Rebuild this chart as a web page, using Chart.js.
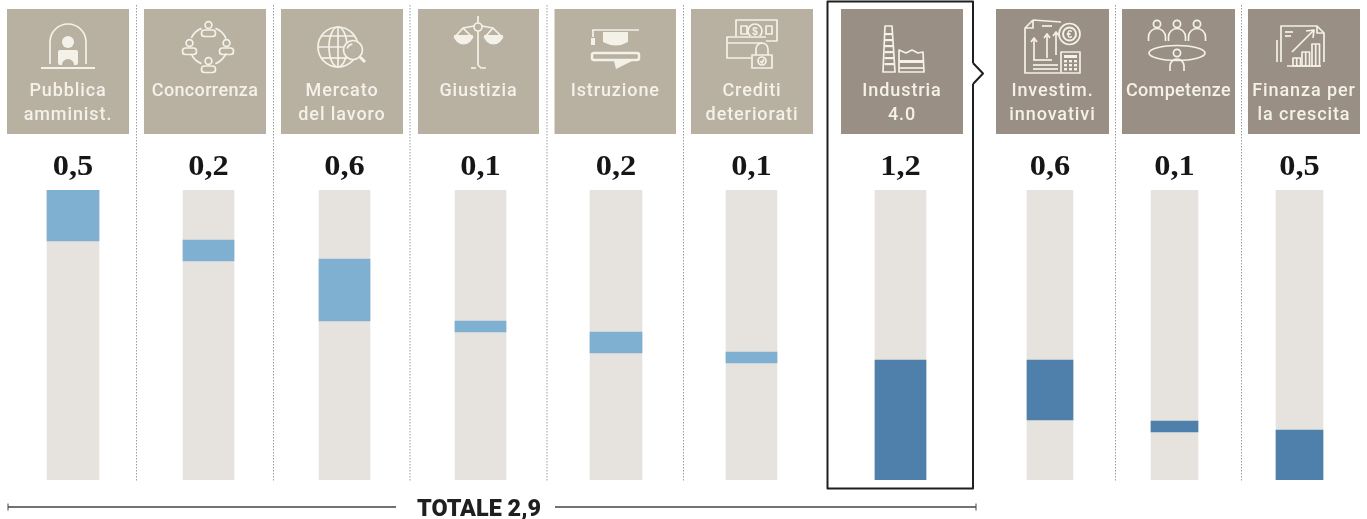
<!DOCTYPE html>
<html lang="it"><head><meta charset="utf-8">
<style>html,body{margin:0;padding:0;background:#fff}canvas{display:block}#w{width:1367px;height:519px;position:relative}</style>
<script src="https://cdn.jsdelivr.net/npm/chart.js@4"></script>
</head><body><div id="w"><canvas id="c" width="1367" height="519"></canvas></div>
<script>
const categories = ['Pubblica amminist.','Concorrenza','Mercato del lavoro','Giustizia','Istruzione','Crediti deteriorati','Industria 4.0','Investim. innovativi','Competenze','Finanza per la crescita'];
const headerLines = [['Pubblica','amminist.'],['Concorrenza'],['Mercato','del lavoro'],['Giustizia'],['Istruzione'],['Crediti','deteriorati'],['Industria','4.0'],['Investim.','innovativi'],['Competenze'],['Finanza per','la crescita']];
const valueLabels = ['0,5','0,2','0,6','0,1','0,2','0,1','1,2','0,6','0,1','0,5'];
const segmentTop = [2.90,2.40,2.21,1.59,1.48,1.28,1.20,1.20,0.59,0.50];
const segmentBottom = [2.39,2.19,1.59,1.48,1.27,1.17,0,0.60,0.48,0];
const trackTop = 2.9;
const totalLabel = 'TOTALE 2,9';

// layout (not data)
const centers=[73,208.5,344.5,480.5,616,751.5,900.5,1050,1174.5,1299.5];
const barW=[52,51,51,51,52,51,51,46,47,47];
const boxes=[[7,129],[144,266],[281,403],[418,539],[554.5,676],[691,813],[841,963],[996,1109],[1122,1235],[1248,1360]];
const headW=[0,109,0,0,0,0,0,0,108,0];
const seps=[136.5,273.5,410,547,683.5,1115.5,1241.5];
const LIGHT='#7fb0d2',DARK='#4f80ab',TRACK='#e6e3de',HL='#b8b1a2',HD='#9a8f84',INK='#f4f1e8';

class ColumnScale extends Chart.CategoryScale{
  getPixelForValue(v,i){const k=(i!==undefined&&i!==null)?i:Math.round(v);return centers[k]!==undefined?centers[k]:super.getPixelForValue(v,i);}
}
ColumnScale.id='columns';ColumnScale.defaults=Chart.CategoryScale.defaults;
Chart.register(ColumnScale);

function L(c,pts,close){c.beginPath();pts.forEach((p,i)=>i?c.lineTo(p[0],p[1]):c.moveTo(p[0],p[1]));if(close)c.closePath();c.stroke();}
function C(c,x,y,r,fill){c.beginPath();c.arc(x,y,r,0,Math.PI*2);fill?c.fill():c.stroke();}
function R(c,x,y,w,h,fill){fill?c.fillRect(x,y,w,h):c.strokeRect(x,y,w,h);}
function person(c,x,y){C(c,x,y-4,3.4);c.beginPath();c.roundRect(x-7,y+1,14,6.5,3);c.stroke();}
const LW=1.7;
const icons=[
 c=>{c.beginPath();c.moveTo(50,64);c.lineTo(50,43);c.arc(68,42,18,Math.PI,0);c.lineTo(86,64);c.stroke();
     c.lineWidth=2.2;L(c,[[41,68],[95,68]]);c.lineWidth=LW;
     C(c,68,42,6,true);c.beginPath();c.roundRect(58,50,20,15,2);c.fill();
     c.fillStyle=HL;c.beginPath();c.moveTo(62,65);c.arc(68,65,6,Math.PI,0);c.fill();c.fillStyle=INK;},
 c=>{person(c,208.5,29);person(c,189.5,47);person(c,226.5,47);person(c,208.5,65);
     [[-2.7,-1.95],[-1.2,-.4],[.4,1.2],[1.95,2.7]].forEach(a=>{c.beginPath();c.arc(208.5,46,19,a[0],a[1]);c.stroke();});},
 c=>{C(c,338,47,20);c.beginPath();c.ellipse(338,47,9,20,0,0,7);c.stroke();L(c,[[338,27],[338,67]]);L(c,[[318,47],[358,47]]);L(c,[[321,36],[355,36]]);L(c,[[321,58],[352,58]]);
     c.fillStyle=HL;C(c,353,50,10,true);c.fillStyle=INK;C(c,353,50,9.5);c.beginPath();c.arc(353,50,6,3.4,4.6);c.stroke();c.lineWidth=3;L(c,[[360,57],[365,62]]);c.lineWidth=LW;},
 c=>{L(c,[[478,16],[478,23]]);C(c,478,27,4);L(c,[[478,31],[478,65],[481,68],[486,68]]);L(c,[[471,68],[476,68]]);
     L(c,[[474,26],[463,28],[454,38]]);L(c,[[463,28],[473,38]]);L(c,[[482,26],[493,28],[503,38]]);L(c,[[493,28],[484,38]]);
     c.beginPath();c.arc(463.5,35,9.5,0,Math.PI);c.fill();c.beginPath();c.arc(493.5,35,9.5,0,Math.PI);c.fill();},
 c=>{L(c,[[592,30],[639,30]]);c.beginPath();c.moveTo(603,32);c.lineTo(628,32);c.lineTo(628,42);c.quadraticCurveTo(616,49,603,42);c.closePath();c.fill();
     L(c,[[593,30],[593,37]]);R(c,591,38,4,7,true);
     c.lineWidth=2.5;c.beginPath();c.roundRect(592,53,47,7,2);c.stroke();c.lineWidth=LW;
     R(c,606,52,22,2,true);c.beginPath();c.moveTo(614,61);c.lineTo(632,61);c.lineTo(616,69);c.closePath();c.fill();},
 c=>{R(c,736,20,41,21);C(c,755,31,7);c.font='bold 10px "Liberation Sans"';c.textAlign='center';c.fillText('$',755,35);R(c,741,26,6,8);R(c,766,26,6,8);
     c.fillStyle=HL;c.fillRect(726,36,40,24);c.fillStyle=INK;c.beginPath();c.moveTo(766,37);c.lineTo(727,37);c.lineTo(727,58);c.lineTo(752,58);c.stroke();L(c,[[727,43],[762,43]]);
     c.fillStyle=HL;c.fillRect(751,46,23,24);c.fillStyle=INK;R(c,752,55,20,13);c.beginPath();c.arc(762,49,6,Math.PI,0);c.lineTo(768,55);c.moveTo(756,49);c.lineTo(756,55);c.stroke();C(c,762,61,4);L(c,[[760,61],[762,63],[764,59]]);},
 c=>{c.beginPath();c.moveTo(883,72);c.lineTo(885,26);c.lineTo(892,26);c.lineTo(895,72);c.closePath();c.stroke();
     [33,39,45,51,57,63].forEach(y=>R(c,884.5,y,10.5-(70-y)*.08,2.2,true));
     c.beginPath();c.moveTo(899,72);c.lineTo(899,50);c.lineTo(906,53);c.lineTo(912,50);c.lineTo(918,53);c.lineTo(923,52);c.lineTo(924,72);c.closePath();c.stroke();R(c,899,60,25,3,true);L(c,[[899,68],[924,68]]);},
 c=>{c.beginPath();c.moveTo(1033,20);c.lineTo(1061,22);c.moveTo(1033,20);c.lineTo(1025,28);c.lineTo(1025,73);c.lineTo(1060,73);c.moveTo(1033,20);c.lineTo(1033,28);c.lineTo(1025,28);c.stroke();
     [[1034,60,38],[1047,58,34],[1056,55,32]].forEach(a=>{L(c,[[a[0],a[1]],[a[0],a[2]]]);L(c,[[a[0]-3,a[2]+4],[a[0],a[2]],[a[0]+3,a[2]+4]]);});
     L(c,[[1033,60],[1052,60]]);L(c,[[1033,65],[1058,65]]);L(c,[[1033,69],[1058,69]]);L(c,[[1042,26],[1052,26]]);
     c.fillStyle=HD;C(c,1069.5,34,11,true);c.fillStyle=INK;C(c,1069.5,34,10.5);c.lineWidth=2;C(c,1069.5,34,6.5);c.lineWidth=LW;
     c.font='bold 10px "Liberation Sans"';c.textAlign='center';c.fillText('€',1069.5,38);
     c.fillStyle=HD;c.fillRect(1060,51,21,23);c.fillStyle=INK;R(c,1061,52,19,21);R(c,1064,55,13,3,true);
     for(let i=0;i<3;i++)for(let j=0;j<3;j++)R(c,1064+i*5,60+j*4,3,2.4,true);},
 c=>{[1157,1177,1197].forEach(x=>{C(c,x,24,3.6);c.beginPath();c.moveTo(x-8.5,41);c.lineTo(x-8.5,37);c.arc(x,37,8.5,Math.PI,0);c.lineTo(x+8.5,41);c.stroke();});
     c.beginPath();c.ellipse(1177,53,28,7.5,0,0,7);c.stroke();C(c,1177,53,3.6);c.beginPath();c.moveTo(1170,71);c.lineTo(1170,66);c.arc(1177,66,7,Math.PI,0);c.lineTo(1184,71);c.stroke();},
 c=>{c.beginPath();c.moveTo(1281,62);c.lineTo(1281,26);c.lineTo(1317,26);c.lineTo(1324,33);c.lineTo(1324,62);c.stroke();L(c,[[1317,26],[1317,33],[1324,33]]);
     L(c,[[1285,32],[1293,32]]);L(c,[[1285,36],[1291,36]]);L(c,[[1292,52],[1314,30]]);L(c,[[1306,31],[1314,30],[1313,38]]);
     [[1293,58,8],[1302,52,14],[1312,44,22]].forEach(a=>{c.fillStyle=HD;c.fillRect(a[0]-1,a[1]-1,10,a[2]+2);c.fillStyle=INK;R(c,a[0],a[1],7.5,a[2]);L(c,[[a[0]+3.7,a[1]],[a[0]+3.7,a[1]+a[2]]]);});
     L(c,[[1287,66],[1321,66]]);L(c,[[1277,62],[1277,40]]);},
];

function wideText(c,t,cx,y,sx){c.save();c.translate(cx,y);c.scale(sx,1);c.textAlign='center';c.fillText(t,0,0);c.restore();}

const decor={id:'decor',
 afterDatasetsUpdate(chart){chart.getSortedVisibleDatasetMetas().forEach(m=>m.data.forEach((e,i)=>{e.width=barW[i];}));},
 beforeDatasetsDraw(chart){const c=chart.ctx;c.save();
  c.strokeStyle='#9c9c9c';c.lineWidth=1;c.setLineDash([1.5,1.5]);seps.forEach(x=>{c.beginPath();c.moveTo(x,5);c.lineTo(x,482);c.stroke();});c.setLineDash([]);
  boxes.forEach((b,i)=>{c.fillStyle=i>=6?HD:HL;c.fillRect(b[0],9,b[1]-b[0],125);
   const cx=(b[0]+b[1])/2;c.fillStyle=INK;c.font='500 18px Roboto';c.textAlign='center';c.textBaseline='alphabetic';
   const single=headerLines[i].length==1&&headerLines[i][0].length>=10&&headW[i]>0;
   c.letterSpacing=single?'0.35px':'0.9px';
   headerLines[i].forEach((t,k)=>c.fillText(t,cx,96+k*24));c.letterSpacing='0px';
   c.save();c.strokeStyle=INK;c.fillStyle=INK;c.lineWidth=LW;c.lineJoin='round';icons[i](c);c.restore();
   c.fillStyle='#161616';c.strokeStyle='#161616';c.lineWidth=.3;c.font='bold 30px "Liberation Serif"';
   wideText(c,valueLabels[i],chart.scales.x.getPixelForValue(i,i),174.5,1.08);
  });
  c.strokeStyle='#1f1f1f';c.lineWidth=2;c.lineJoin='round';c.beginPath();
  c.moveTo(973,63);c.lineTo(973,1.5);c.lineTo(827.5,1.5);c.lineTo(827.5,488.5);c.lineTo(973,488.5);c.lineTo(973,84);c.stroke();
  c.beginPath();c.moveTo(973,63);c.lineTo(983,73.5);c.lineTo(973,84);c.stroke();
  c.strokeStyle='#444';c.lineWidth=1.5;c.beginPath();c.moveTo(8,507);c.lineTo(396,507);c.moveTo(555,507);c.lineTo(976,507);c.stroke();
  c.lineWidth=1;c.beginPath();c.moveTo(8,503.5);c.lineTo(8,510.5);c.moveTo(976,503.5);c.lineTo(976,510.5);c.stroke();
  c.fillStyle='#1f1f1f';c.font='900 24px Roboto';c.textAlign='center';
  wideText(c,totalLabel,479,515.5,124/c.measureText(totalLabel).width);
  c.restore();}
};

new Chart(document.getElementById('c'),{
 type:'bar',
 plugins:[decor],
 data:{labels:categories,datasets:[
  {label:'Quota',data:segmentTop.map((t,i)=>[segmentBottom[i],t]),backgroundColor:categories.map((_,i)=>i>=6?DARK:LIGHT),barThickness:51,grouped:false},
  {label:'Totale',data:categories.map(()=>[0,trackTop]),backgroundColor:TRACK,barThickness:51,grouped:false}
 ]},
 options:{responsive:false,animation:false,events:[],
  layout:{padding:{top:190,bottom:39,left:0,right:0}},
  plugins:{legend:{display:false},tooltip:{enabled:false},title:{display:false}},
  scales:{
   x:{type:'columns',display:false,offset:true,grid:{display:false}},
   y:{display:false,min:0,max:trackTop,grid:{display:false}}
  }}
});
</script></body></html>
